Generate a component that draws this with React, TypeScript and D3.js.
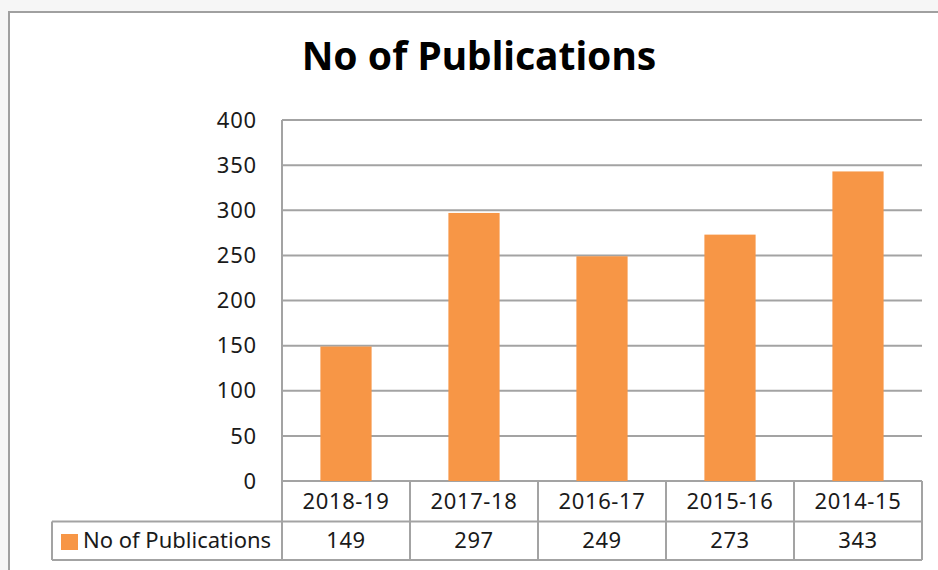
import * as d3 from "d3";
import { useEffect, useRef } from "react";

const categories = ["2018-19", "2017-18", "2016-17", "2015-16", "2014-15"];
const values = [149, 297, 249, 273, 343];
const yTicks = [0, 50, 100, 150, 200, 250, 300, 350, 400];
const seriesName = "No of Publications";
const title = "No of Publications";

const W = 938;
const H = 570;

const App = () => {
  const ref = useRef<SVGSVGElement>(null);

  useEffect(() => {
    const svg = d3.select(ref.current);
    svg.selectAll("*").remove();

    const font = "'Noto Sans', sans-serif";
    const grid = "#a3a3a3";
    const ink = "#1a1a1a";
    const left = 282, right = 922, top = 120, zero = 481;
    const row1 = 521.5, row2 = 560, legendLeft = 52;

    // page bg + frame
    svg.append("rect").attr("width", W).attr("height", H).attr("fill", "#f6f6f6");
    svg.append("rect")
      .attr("x", 9).attr("y", 12).attr("width", W + 20).attr("height", H + 20)
      .attr("fill", "#fff").attr("stroke", "#a0a0a0").attr("stroke-width", 2);

    // scales
    const xCol = d3.scaleBand().domain(categories).range([left, right]).padding(0);
    const xBar = d3.scaleBand().domain(categories).range([left, right])
      .paddingInner(0.6).paddingOuter(0.3);
    const y = d3.scaleLinear().domain([0, 400]).range([zero, top]);

    // title
    svg.append("text")
      .attr("x", 479).attr("y", 70)
      .attr("text-anchor", "middle")
      .attr("font-family", font).attr("font-weight", "bold")
      .attr("font-size", 39).attr("fill", "#000")
      .text(title);

    // gridlines
    svg.append("g").selectAll("line").data(yTicks).join("line")
      .attr("x1", left).attr("x2", right)
      .attr("y1", d => y(d)).attr("y2", d => y(d))
      .attr("stroke", grid).attr("stroke-width", 2);

    // y labels
    svg.append("g").selectAll("text").data(yTicks).join("text")
      .attr("x", 257).attr("y", d => y(d))
      .attr("dy", "0.35em").attr("text-anchor", "end")
      .attr("font-family", font).attr("font-size", 22)
      .attr("letter-spacing", 0.8).attr("fill", ink)
      .text(d => d);

    // bars
    svg.append("g").selectAll("rect").data(values).join("rect")
      .attr("x", (d, i) => xBar(categories[i])!)
      .attr("width", xBar.bandwidth())
      .attr("y", d => y(d))
      .attr("height", d => zero - y(d))
      .attr("fill", "#f79646");

    // data table lines
    const t = svg.append("g").attr("stroke", grid).attr("stroke-width", 2);
    t.append("line").attr("x1", left).attr("x2", left).attr("y1", top).attr("y2", row2);
    t.append("line").attr("x1", legendLeft).attr("x2", right).attr("y1", row1).attr("y2", row1);
    t.append("line").attr("x1", legendLeft).attr("x2", right).attr("y1", row2).attr("y2", row2);
    t.append("line").attr("x1", legendLeft).attr("x2", legendLeft).attr("y1", row1).attr("y2", row2);
    t.selectAll("line.col").data(categories).join("line")
      .attr("class", "col")
      .attr("x1", d => xCol(d)! + xCol.bandwidth())
      .attr("x2", d => xCol(d)! + xCol.bandwidth())
      .attr("y1", zero).attr("y2", row2);

    // category labels
    svg.append("g").selectAll("text").data(categories).join("text")
      .attr("x", d => xCol(d)! + xCol.bandwidth() / 2)
      .attr("y", (zero + row1) / 2)
      .attr("dy", "0.35em").attr("text-anchor", "middle")
      .attr("font-family", font).attr("font-size", 22)
      .attr("letter-spacing", 0.6).attr("fill", ink)
      .text(d => d);

    // values row
    svg.append("g").selectAll("text").data(values).join("text")
      .attr("x", (d, i) => xCol(categories[i])! + xCol.bandwidth() / 2)
      .attr("y", (row1 + row2) / 2)
      .attr("dy", "0.35em").attr("text-anchor", "middle")
      .attr("font-family", font).attr("font-size", 22)
      .attr("letter-spacing", 0.6).attr("fill", ink)
      .text(d => d);

    // legend key
    svg.append("rect")
      .attr("x", 61).attr("y", 534).attr("width", 17).attr("height", 16)
      .attr("fill", "#f79646");
    svg.append("text")
      .attr("x", 83).attr("y", (row1 + row2) / 2)
      .attr("dy", "0.35em")
      .attr("font-family", font).attr("font-size", 22).attr("fill", ink)
      .text(seriesName);
  }, []);

  return (
    <svg
      ref={ref}
      width={W}
      height={H}
      style={{ position: "absolute", left: 0, top: 0 }}
    />
  );
};

export default App;
